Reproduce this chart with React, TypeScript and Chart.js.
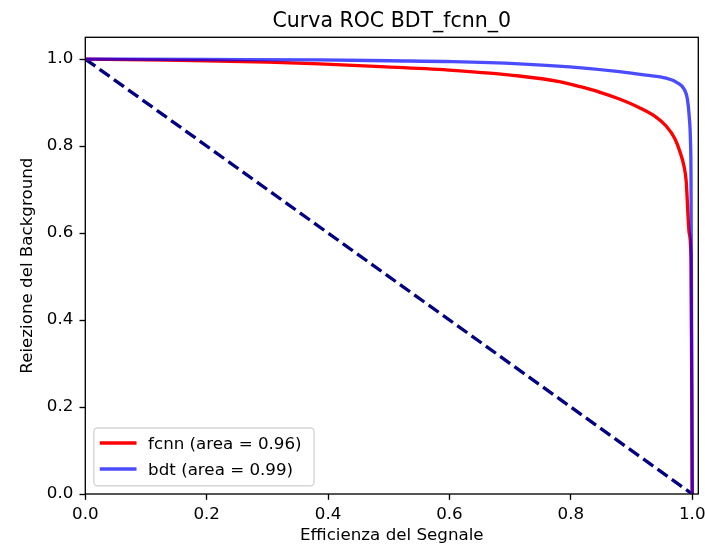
import React, { useEffect, useRef } from "react";
import { Chart, registerables } from "chart.js";

Chart.register(...registerables);

const TITLE = "Curva ROC BDT_fcnn_0";
const X_LABEL = "Efficienza del Segnale";
const Y_LABEL = "Reiezione del Background";
const TICK_VALUES = [0, 0.2, 0.4, 0.6, 0.8, 1.0];

const FCNN_LABEL = "fcnn (area = 0.96)";
const FCNN_X = [0, 0.1, 0.2, 0.3, 0.386, 0.496, 0.606, 0.715, 0.781, 0.814, 0.847, 0.88, 0.913, 0.941, 0.957, 0.971, 0.979, 0.987, 0.99, 0.995, 0.998, 1.0];
const FCNN_Y = [1.0, 0.998, 0.996, 0.993, 0.989, 0.982, 0.974, 0.961, 0.948, 0.937, 0.924, 0.908, 0.888, 0.866, 0.846, 0.818, 0.79, 0.75, 0.72, 0.6, 0.537, 0.0];

const BDT_LABEL = "bdt (area = 0.99)";
const BDT_X = [0, 0.2, 0.386, 0.5, 0.606, 0.715, 0.798, 0.88, 0.924, 0.957, 0.975, 0.987, 0.992, 0.995, 0.997, 0.998, 1.0];
const BDT_Y = [1.0, 0.999, 0.998, 0.996, 0.994, 0.989, 0.982, 0.971, 0.963, 0.956, 0.946, 0.93, 0.908, 0.869, 0.816, 0.73, 0.0];

const DIAG_X = [0, 1];
const DIAG_Y = [1, 0];

const FONT = '"DejaVu Sans", "Liberation Sans", sans-serif';

const toPoints = (xs: number[], ys: number[]) => xs.map((x, i) => ({ x, y: ys[i] }));

const framePlugin = {
  id: "frame",
  afterDatasetsDraw(chart: any) {
    const { ctx, chartArea: a } = chart;
    ctx.save();
    ctx.strokeStyle = "#000";
    ctx.lineWidth = 1.33;
    ctx.strokeRect(a.left, a.top, a.right - a.left, a.bottom - a.top);
    ctx.restore();
  },
};

const titlePlugin = {
  id: "topTitle",
  afterDraw(chart: any) {
    const { ctx, chartArea: a } = chart;
    ctx.save();
    ctx.fillStyle = "#000";
    ctx.font = `20.5px ${FONT}`;
    ctx.textAlign = "center";
    ctx.textBaseline = "alphabetic";
    ctx.fillText(TITLE, (a.left + a.right) / 2, 26.7);
    ctx.restore();
  },
};

const legendPlugin = {
  id: "insideLegend",
  afterDraw(chart: any) {
    const { ctx, chartArea: a } = chart;
    const items = chart.data.datasets.filter((d: any) => d.inLegend);
    ctx.save();
    ctx.font = `16.7px ${FONT}`;
    let maxW = 0;
    items.forEach((d: any) => {
      maxW = Math.max(maxW, ctx.measureText(d.label).width);
    });
    const rowH = 26;
    const boxX = a.left + 8.5;
    const boxH = 15 + rowH * (items.length - 1) + 16.7;
    const boxY = a.bottom - 8.3 - boxH;
    const boxW = 54.3 + maxW + 12.5;
    ctx.beginPath();
    ctx.roundRect(boxX, boxY, boxW, boxH, 3.5);
    ctx.fillStyle = "rgba(255,255,255,0.8)";
    ctx.fill();
    ctx.lineWidth = 1.4;
    ctx.strokeStyle = "rgba(204,204,204,0.8)";
    ctx.stroke();
    items.forEach((d: any, i: number) => {
      const cy = boxY + 15 + i * rowH;
      ctx.beginPath();
      ctx.moveTo(boxX + 6, cy);
      ctx.lineTo(boxX + 42.7, cy);
      ctx.strokeStyle = d.borderColor;
      ctx.lineWidth = 3.33;
      ctx.lineCap = "butt";
      ctx.stroke();
      ctx.fillStyle = "#000";
      ctx.textAlign = "left";
      ctx.textBaseline = "alphabetic";
      ctx.fillText(d.label, boxX + 54.3, cy + 6.1);
    });
    ctx.restore();
  },
};

export default function App() {
  const canvasRef = useRef<HTMLCanvasElement | null>(null);

  useEffect(() => {
    if (!canvasRef.current) return;
    const tickFont = { family: FONT, size: 16.7 };
    const chart = new Chart(canvasRef.current, {
      type: "line",
      data: {
        datasets: [
          {
            label: FCNN_LABEL,
            inLegend: true,
            data: toPoints(FCNN_X, FCNN_Y),
            borderColor: "rgb(255,0,0)",
            borderWidth: 3.33,
            pointRadius: 0,
            fill: false,
            cubicInterpolationMode: "monotone",
            order: 2,
          } as any,
          {
            label: BDT_LABEL,
            inLegend: true,
            data: toPoints(BDT_X, BDT_Y),
            borderColor: "rgba(0,0,255,0.7)",
            borderWidth: 3.33,
            pointRadius: 0,
            fill: false,
            cubicInterpolationMode: "monotone",
            order: 1,
          } as any,
          {
            label: "diagonal",
            inLegend: false,
            data: toPoints(DIAG_X, DIAG_Y),
            borderColor: "#000080",
            borderWidth: 3.33,
            borderDash: [12.3, 5.3],
            pointRadius: 0,
            fill: false,
            tension: 0,
            order: 3,
          } as any,
        ],
      },
      options: {
        responsive: false,
        animation: false,
        devicePixelRatio: 1,
        layout: {
          autoPadding: false,
          padding: { left: 0, right: 6.7, top: 37.3, bottom: 0 },
        },
        plugins: {
          legend: { display: false },
          title: { display: false },
          tooltip: { enabled: false },
        },
        scales: {
          x: {
            type: "linear",
            min: 0,
            max: 1.01,
            afterBuildTicks: (scale: any) => {
              scale.ticks = TICK_VALUES.map((v) => ({ value: v }));
            },
            afterFit: (scale: any) => {
              scale.height = 54;
              scale.paddingLeft = 0;
              scale.paddingRight = 0;
            },
            ticks: {
              callback: (v: any) => Number(v).toFixed(1),
              font: tickFont,
              color: "#000",
              padding: 4.6,
              maxRotation: 0,
              autoSkip: false,
            },
            grid: {
              display: true,
              drawOnChartArea: false,
              drawTicks: true,
              tickLength: 5.8,
              tickColor: "#000",
              tickWidth: 1.33,
            },
            border: { display: false },
            title: {
              display: true,
              text: X_LABEL,
              font: tickFont,
              color: "#000",
              padding: { top: 0, bottom: 2.1 },
            },
          },
          y: {
            type: "linear",
            min: 0,
            max: 1.05,
            afterBuildTicks: (scale: any) => {
              scale.ticks = TICK_VALUES.map((v) => ({ value: v }));
            },
            afterFit: (scale: any) => {
              scale.width = 85.3;
              scale.paddingTop = 0;
              scale.paddingBottom = 0;
            },
            ticks: {
              callback: (v: any) => Number(v).toFixed(1),
              font: tickFont,
              color: "#000",
              padding: 6.2,
              autoSkip: false,
            },
            grid: {
              display: true,
              drawOnChartArea: false,
              drawTicks: true,
              tickLength: 5.8,
              tickColor: "#000",
              tickWidth: 1.33,
            },
            border: { display: false },
            title: {
              display: true,
              text: Y_LABEL,
              font: tickFont,
              color: "#000",
              padding: { top: 17.4, bottom: 0 },
            },
          },
        },
      },
      plugins: [framePlugin, titlePlugin, legendPlugin],
    } as any);
    return () => chart.destroy();
  }, []);

  return (
    <div style={{ position: "absolute", left: 0, top: 0, width: 705, height: 548, background: "#fff" }}>
      <canvas ref={canvasRef} width={705} height={548} style={{ width: 705, height: 548, display: "block" }} />
    </div>
  );
}
